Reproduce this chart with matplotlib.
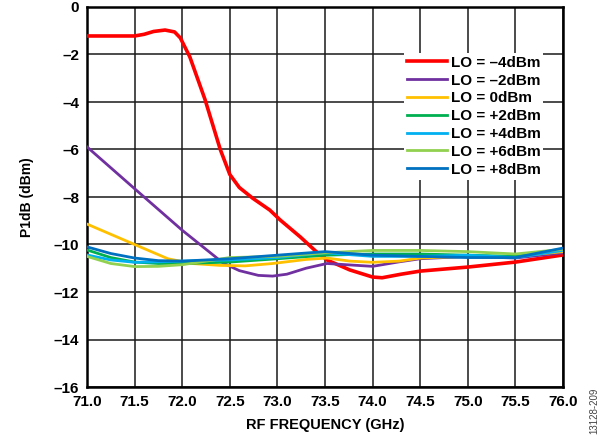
import matplotlib
matplotlib.use("Agg")
import matplotlib.pyplot as plt

plt.rcParams['font.family'] = ['Liberation Sans', 'DejaVu Sans']
plt.rcParams['font.weight'] = 'bold'

# P1dB vs RF frequency for different LO drive levels
x_m4 = [71.0, 71.5, 71.6, 71.7, 71.82, 71.92, 71.98, 72.08, 72.24, 72.4, 72.5, 72.6, 72.74,
        72.92, 73.03, 73.24, 73.4, 73.52, 73.76, 74.0, 74.1, 74.3, 74.5, 75.0, 75.5, 76.0]
y_m4 = [-1.22, -1.22, -1.15, -1.03, -0.97, -1.05, -1.3, -2.1, -3.9, -6.0, -7.05, -7.6, -8.05,
        -8.55, -8.97, -9.68, -10.27, -10.65, -11.07, -11.37, -11.4, -11.25, -11.12, -10.95,
        -10.74, -10.44]

x_m2 = [71.0, 71.5, 72.0, 72.43, 72.6, 72.8, 72.95, 73.1, 73.3, 73.52, 73.76, 74.0, 74.28,
        74.5, 75.0, 75.5, 76.0]
y_m2 = [-5.89, -7.65, -9.4, -10.78, -11.1, -11.3, -11.33, -11.25, -11.0, -10.8, -10.86, -10.92,
        -10.73, -10.6, -10.5, -10.57, -10.35]

x_0 = [71.0, 71.5, 71.85, 72.1, 72.4, 72.66, 72.95, 73.3, 73.52, 73.76, 74.0, 74.28, 74.5,
       75.0, 75.5, 76.0]
y_0 = [-9.14, -10.0, -10.6, -10.8, -10.88, -10.9, -10.8, -10.63, -10.57, -10.7, -10.75, -10.7,
       -10.57, -10.5, -10.5, -10.3]

x_std = [71.0, 71.25, 71.5, 71.75, 72.0, 72.5, 73.0, 73.5, 74.0, 74.5, 75.0, 75.5, 76.0]
y_p2 = [-10.23, -10.55, -10.74, -10.8, -10.8, -10.74, -10.6, -10.45, -10.4, -10.4, -10.45, -10.5, -10.2]
y_p4 = [-10.44, -10.65, -10.75, -10.73, -10.7, -10.65, -10.55, -10.35, -10.5, -10.5, -10.45, -10.55, -10.25]
y_p6 = [-10.5, -10.8, -10.93, -10.92, -10.85, -10.55, -10.5, -10.35, -10.25, -10.25, -10.3, -10.4, -10.2]
y_p8 = [-10.1, -10.38, -10.57, -10.68, -10.7, -10.6, -10.45, -10.3, -10.45, -10.5, -10.55, -10.55, -10.15]

labels = ['LO = \u20134dBm', 'LO = \u20132dBm', 'LO = 0dBm', 'LO = +2dBm',
          'LO = +4dBm', 'LO = +6dBm', 'LO = +8dBm']
colors = ['#FF0000', '#7030A0', '#FFC000', '#00B050', '#00B0F0', '#92D050', '#0070C0']

series = [(x_m4, y_m4), (x_m2, y_m2), (x_0, y_0), (x_std, y_p2),
          (x_std, y_p4), (x_std, y_p6), (x_std, y_p8)]

fig = plt.figure(figsize=(6.02, 4.44), dpi=100)
ax = fig.add_axes([87 / 602, 1 - 387 / 444, (563 - 87) / 602, (387 - 7) / 444])

for i, ((xs, ys), lab, col) in enumerate(zip(series, labels, colors)):
    lw = 2.6 if i == 0 else 2.0
    ax.plot(xs, ys, color=col, lw=lw, label=lab, zorder=3 + i * 0.01,
            solid_joinstyle='round')

ax.set_xlim(71.0, 76.0)
ax.set_ylim(-16, 0)
ax.set_xticks([71.0 + 0.5 * k for k in range(11)])
ax.set_xticklabels(['%.1f' % (71.0 + 0.5 * k) for k in range(11)])
ax.set_yticks(range(-16, 1, 2))
ax.set_yticklabels([('\u2013%d' % -v) if v < 0 else '0' for v in range(-16, 1, 2)])
ax.tick_params(length=0, labelsize=11, pad=5.5)
for lbl in ax.get_xticklabels() + ax.get_yticklabels():
    lbl.set_fontweight('bold')
ax.grid(True, color='#1a1a1a', lw=1.1)
for s in ax.spines.values():
    s.set_linewidth(1.8)
    s.set_color('black')

ax.set_xlabel('RF FREQUENCY (GHz)', fontsize=10.5, fontweight='bold', labelpad=7)
ax.set_ylabel('P1dB (dBm)', fontsize=10, fontweight='bold', labelpad=14)

leg = ax.legend(loc='upper right', bbox_to_anchor=(0.975, 0.9), frameon=True,
                fancybox=False, edgecolor='none', facecolor='white', framealpha=1,
                prop={'size': 11, 'weight': 'bold'}, handlelength=2.6,
                handletextpad=0.26, labelspacing=0.25, borderpad=0.2)
leg.set_zorder(10)

fig.text(0.988, 0.075, '13128-209', rotation=90, fontsize=7, color='#444444',
         fontweight='normal', ha='center', va='center')

fig.savefig('out.png', dpi=100)
